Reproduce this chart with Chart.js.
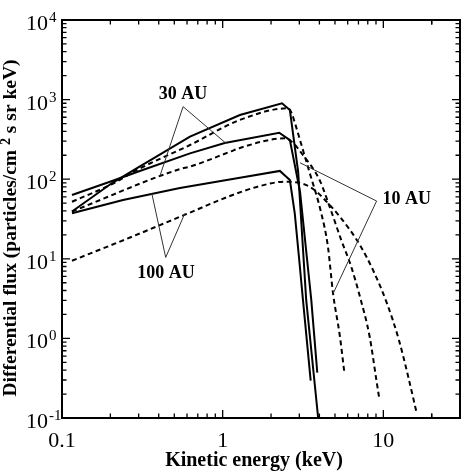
<!DOCTYPE html>
<html><head><meta charset="utf-8">
<script src="https://cdn.jsdelivr.net/npm/chart.js@4.4.1/dist/chart.umd.min.js"></script>
<style>html,body{margin:0;padding:0;background:#fff}canvas{display:block}</style>
</head><body>
<canvas id="c" width="467" height="473"></canvas>
<script>
// ---- data: kinetic energy (keV) and differential flux ----
const e10Solid = [0.1154, 0.205, 0.293, 0.626, 1.28, 2.34, 2.62, 2.95, 3.31, 3.93];
const f10Solid = [39.3, 89.5, 138, 342, 641, 898, 740, 124, 3.04, 0.1];
const e30Solid = [0.1154, 0.205, 0.293, 0.626, 1.03, 2.25, 2.62, 3.03, 3.56, 3.88];
const f30Solid = [63.2, 94.9, 123, 211, 285, 384, 310, 69.7, 3.04, 0.371];
const e100Solid = [0.1154, 0.2397, 0.542, 1.28, 2.27, 2.62, 2.81, 3.01, 3.16, 3.53];
const f100Solid = [37.3, 54.8, 77.5, 104, 127, 97.7, 37.3, 8.77, 3.04, 0.294];

const e10Dash = [0.1154, 0.205, 0.293, 0.626, 1.28, 2.55, 2.69, 2.82, 3.03, 3.25, 3.49, 4.11, 4.52, 4.86, 5.37, 5.71];
const f10Dash = [52.1, 87, 131, 269, 555, 778, 673, 503, 310, 192, 118, 37.3, 14.2, 3.72, 1.05, 0.382];
const e30Dash = [0.1154, 0.542, 0.626, 1.11, 1.28, 2.44, 2.69, 3.16, 4.01, 4.63, 5.47, 6.31, 7.15, 8.22, 9.05, 9.43];
const f30Dash = [39.3, 134, 144, 221, 247, 326, 296, 201, 97.7, 45.2, 17.2, 7.96, 3.34, 1.05, 0.300, 0.177];
const e100Dash = [0.1154, 0.265, 0.611, 1.11, 1.71, 2.44, 3.48, 4.74, 6.20, 7.25, 8.62, 10.53, 12.5, 14.3, 16.1];
const f100Dash = [9.46, 18.5, 37.3, 61.5, 82.2, 93.1, 80.5, 45.2, 23.0, 14.2, 7.23, 2.76, 0.955, 0.327, 0.117];

// ---- axes / labels ----
const xTickValues = [0.1, 1, 10];
const xTickLabels = ['0.1', '1', '10'];
const yTickExponents = [4, 3, 2, 1, 0, -1];
const yTickExpLabels = ['4', '3', '2', '1', '0', '-1'];
const xTitle = 'Kinetic energy (keV)';
const yTitleParts = ['Differential flux (particles/cm ', '2', ' s sr keV)'];

// ---- annotations (data coordinates) ----
const annLabels = ['30 AU', '10 AU', '100 AU'];
const annTextAt = [[0.566, 1175], [14.0, 56.4], [0.444, 6.64]];
const annApex = [[0.567, 815], [9.08, 53.2], [0.442, 10.4]];
const annEnds = [
  [[0.407, 110], [1.05, 282]],
  [[3.03, 161], [4.88, 3.69]],
  [[0.362, 66.5], [0.582, 37.3]]
];

const mk = (E, F) => E.map((e, i) => ({x: e, y: F[i]}));
const solid = (d) => ({data: d, borderColor: '#000', borderWidth: 2, pointRadius: 0, tension: 0, fill: false});
const dashed = (d) => ({data: d, borderColor: '#000', borderWidth: 2, borderDash: [5, 3.5], pointRadius: 0, cubicInterpolationMode: 'monotone', fill: false});

const SERIF = '"Liberation Serif", "Times New Roman", serif';

const framePlugin = {
  id: 'frame',
  afterDatasetsDraw(chart) {
    const {ctx, chartArea: a, scales: {x, y}} = chart;
    ctx.save();
    ctx.strokeStyle = '#000';
    ctx.fillStyle = '#000';
    // minor/major ticks
    ctx.lineWidth = 1.3;
    const tick = (px, len, vertical) => {
      ctx.beginPath();
      if (vertical) {
        ctx.moveTo(px, a.bottom); ctx.lineTo(px, a.bottom - len);
        ctx.moveTo(px, a.top); ctx.lineTo(px, a.top + len);
      } else {
        ctx.moveTo(a.left, px); ctx.lineTo(a.left + len, px);
        ctx.moveTo(a.right, px); ctx.lineTo(a.right - len, px);
      }
      ctx.stroke();
    };
    for (let d = 0.1; d <= 10; d *= 10) {
      for (let m = 1; m <= 9; m++) {
        const v = d * m;
        if (v > 30.0001) continue;
        tick(x.getPixelForValue(v), m === 1 ? 8 : 4.5, true);
      }
    }
    tick(x.getPixelForValue(20), 4.5, true);
    for (let e = -1; e <= 3; e++) {
      for (let m = 1; m <= 9; m++) {
        tick(y.getPixelForValue(m * Math.pow(10, e)), m === 1 ? 8 : 4.5, false);
      }
    }
    // frame
    ctx.lineWidth = 2;
    ctx.strokeRect(a.left, a.top, a.right - a.left, a.bottom - a.top);

    // x tick labels
    ctx.font = '22px ' + SERIF;
    ctx.textAlign = 'center';
    ctx.textBaseline = 'alphabetic';
    xTickValues.forEach((v, i) => ctx.fillText(xTickLabels[i], x.getPixelForValue(v), a.bottom + 29));
    // y tick labels
    yTickExponents.forEach((e, i) => {
      const py = y.getPixelForValue(Math.pow(10, e));
      ctx.font = '22px ' + SERIF;
      ctx.textAlign = 'right';
      ctx.fillText('10', a.left - 14, py + 10);
      ctx.font = '15px ' + SERIF;
      ctx.textAlign = 'left';
      ctx.fillText(yTickExpLabels[i], a.left - 13, py + 2);
    });

    // axis titles
    ctx.font = 'bold 20px ' + SERIF;
    ctx.textAlign = 'center';
    ctx.fillText(xTitle, (a.left + a.right) / 2 - 7, 466);

    ctx.save();
    ctx.translate(11, (a.top + a.bottom) / 2 + 9);
    ctx.rotate(-Math.PI / 2);
    const big = 'bold 19.5px ' + SERIF, small = 'bold 14px ' + SERIF;
    ctx.font = big;
    const w1 = ctx.measureText(yTitleParts[0]).width, w3 = ctx.measureText(yTitleParts[2]).width;
    ctx.font = small;
    const w2 = ctx.measureText(yTitleParts[1]).width;
    let xx = -(w1 + w2 + w3) / 2;
    ctx.textAlign = 'left';
    ctx.textBaseline = 'middle';
    ctx.font = big; ctx.fillText(yTitleParts[0], xx, 0); xx += w1;
    ctx.font = small; ctx.fillText(yTitleParts[1], xx, -5); xx += w2;
    ctx.font = big; ctx.fillText(yTitleParts[2], xx, 0);
    ctx.restore();

    // annotations
    ctx.strokeStyle = '#333';
    ctx.lineWidth = 1;
    annLabels.forEach((lab, i) => {
      const ax = x.getPixelForValue(annApex[i][0]), ay = y.getPixelForValue(annApex[i][1]);
      annEnds[i].forEach(p => {
        ctx.beginPath();
        ctx.moveTo(ax, ay);
        ctx.lineTo(x.getPixelForValue(p[0]), y.getPixelForValue(p[1]));
        ctx.stroke();
      });
      ctx.font = 'bold 18px ' + SERIF;
      ctx.textAlign = 'center';
      ctx.textBaseline = 'middle';
      ctx.fillStyle = '#000';
      ctx.fillText(lab, x.getPixelForValue(annTextAt[i][0]), y.getPixelForValue(annTextAt[i][1]));
    });
    ctx.restore();
  }
};

new Chart(document.getElementById('c'), {
  type: 'line',
  data: {
    datasets: [
      solid(mk(e10Solid, f10Solid)),
      solid(mk(e30Solid, f30Solid)),
      solid(mk(e100Solid, f100Solid)),
      dashed(mk(e10Dash, f10Dash)),
      dashed(mk(e30Dash, f30Dash)),
      dashed(mk(e100Dash, f100Dash))
    ]
  },
  options: {
    responsive: false,
    animation: false,
    devicePixelRatio: 1,
    layout: {padding: {top: 20, right: 7, left: 0, bottom: 0}},
    plugins: {legend: {display: false}, tooltip: {enabled: false}},
    scales: {
      x: {type: 'logarithmic', min: 0.1, max: 30,
          grid: {display: false, drawTicks: false}, border: {display: false},
          ticks: {display: false}, afterFit(s) { s.height = 55; }},
      y: {type: 'logarithmic', min: 0.1, max: 10000,
          grid: {display: false, drawTicks: false}, border: {display: false},
          ticks: {display: false}, afterFit(s) { s.width = 62; }}
    }
  },
  plugins: [framePlugin]
});
</script>
</body></html>
